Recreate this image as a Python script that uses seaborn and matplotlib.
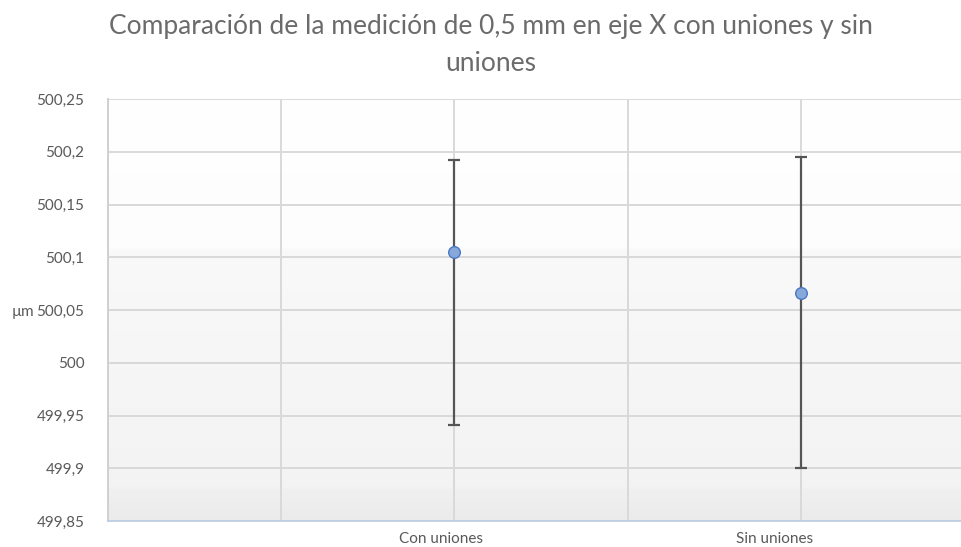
import numpy as np
import pandas as pd
import matplotlib
matplotlib.use("Agg")
import matplotlib.pyplot as plt
from matplotlib.colors import LinearSegmentedColormap
import seaborn as sns

# Measurement data (µm)
groups = ["Con uniones", "Sin uniones"]
x_pos = [1, 2]
means = [500.105, 500.066]
upper = [500.192, 500.195]
lower = [499.941, 499.900]
label_pos = [0.96, 1.925]
y_ticks = [499.85, 499.9, 499.95, 500.0, 500.05, 500.1, 500.15, 500.2, 500.25]
y_labels = ["499,85", "499,9", "499,95", "500", "500,05", "500,1", "500,15", "500,2", "500,25"]

df = pd.DataFrame({"grupo": groups, "x": x_pos, "media": means})

sns.set_theme(style="whitegrid")
plt.rcParams["font.family"] = ["Lato", "DejaVu Sans"]

fig = plt.figure(figsize=(9.62, 5.47), dpi=100)
ax = fig.add_axes([108 / 962, 26 / 547, 1 - 108 / 962, 422 / 547])

xmin, xmax = 0.0, 2.465
ymin, ymax = 499.85, 500.25

# soft vertical gradient in the plot area
grad_cmap = LinearSegmentedColormap.from_list(
    "bg", [(0.0, "#ebebeb"), (0.07, "#f0f0f0"), (0.08, "#f3f3f3"),
           (0.64, "#f9f9f9"), (0.65, "#fdfdfd"), (1.0, "#ffffff")])
grad = np.linspace(0, 1, 256).reshape(-1, 1)
ax.imshow(grad, cmap=grad_cmap, aspect="auto", origin="lower",
          extent=[xmin, xmax, ymin, ymax], zorder=0)

sns.scatterplot(data=df, x="x", y="media", ax=ax, s=70, color="#86a8da",
                edgecolor="#4a78c2", linewidth=1.0, zorder=5, legend=False)
err = [np.array(means) - np.array(lower), np.array(upper) - np.array(means)]
ax.errorbar(x_pos, means, yerr=err, fmt="none", ecolor="#555555",
            elinewidth=1.6, capsize=4.5, capthick=1.6, zorder=4)

ax.set_xlim(xmin, xmax)
ax.set_ylim(ymin, ymax)
ax.set_yticks(y_ticks)
ax.set_yticklabels(y_labels)
ax.set_xticks([0, 0.5, 1.0, 1.5, 2.0])
ax.set_xticklabels([])
for lx, g in zip(label_pos, groups):
    ax.text(lx, ymin - 0.0105, g, ha="center", va="top", fontsize=11,
            color="#595959")

ax.grid(True, color="#d9d9d9", linewidth=1.4)
ax.set_axisbelow(True)
ax.tick_params(axis="y", labelsize=11, labelcolor="#595959", length=0, pad=17)
ax.tick_params(axis="x", length=0)
for s in ["top", "right"]:
    ax.spines[s].set_visible(False)
ax.spines["left"].set_color("#d0d0d0")
ax.spines["left"].set_linewidth(1.4)
ax.spines["bottom"].set_color("#b9cde5")
ax.spines["bottom"].set_linewidth(1.2)

ax.set_xlabel("")
ax.set_ylabel("µm", fontsize=11, color="#595959", rotation=0, va="center",
              ha="center")
ax.yaxis.set_label_coords(-0.1, 0.495)

fig.text(0.51, 0.975, "Comparación de la medición de 0,5 mm en eje X con uniones y sin\nuniones",
         ha="center", va="top", fontsize=19, color="#6b6b6b", linespacing=1.6)

fig.savefig("out.png", dpi=100, facecolor="white")
